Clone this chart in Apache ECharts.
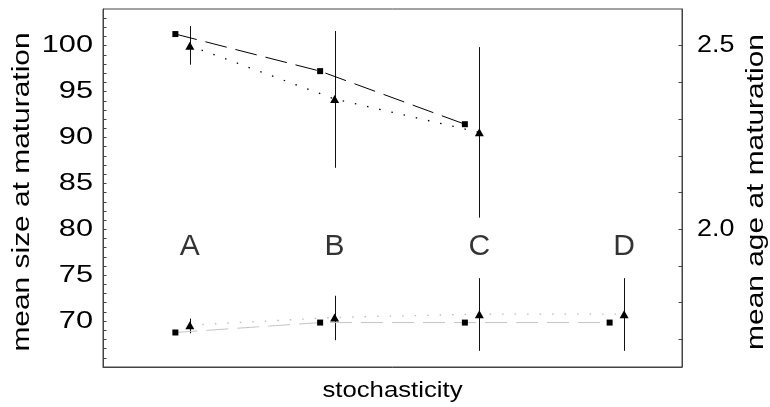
<!DOCTYPE html>
<html><head><meta charset="utf-8">
<script src="https://cdn.jsdelivr.net/npm/echarts@6/dist/echarts.min.js"></script>
<style>html,body{margin:0;padding:0;background:#fff}#c{width:770px;height:407px}</style>
</head><body><div id="c"></div>
<script>
// ---- data ----
const categories = ['A', 'B', 'C', 'D'];
const triangleX = [1, 2, 3, 4];
const squareX = [0.9, 1.9, 2.9, 3.9];
// upper group: mean size at maturation (left axis)
const sizeSquares = [101.27, 97.23, 91.45];
const sizeTriangles = [100.0, 94.2, 90.56];
const sizeTriLow = [97.93, 86.7, 81.27];
const sizeTriHigh = [102.14, 101.6, 99.85];
// lower group: mean age at maturation (right axis)
const ageSquares = [1.719, 1.746, 1.746, 1.746];
const ageTriangles = [1.739, 1.760, 1.769, 1.769];
const ageTriLow = [1.717, 1.698, 1.669, 1.669];
const ageTriHigh = [1.757, 1.819, 1.867, 1.867];
// tick labels
const sizeTickLabels = [70, 75, 80, 85, 90, 95, 100];
const ageTickLabels = [2.0, 2.5];
const categoryLabelLevel = 78.1;
const xTitle = 'stochasticity';
const yLeftTitle = 'mean size at maturation';
const yRightTitle = 'mean age at maturation';

const sizeTicks = [];
for (let v = 66; v <= 103; v++) sizeTicks.push(v);
const ageTicks = [];
for (let k = 17; k <= 25; k++) ageTicks.push(k / 10);

const FONT = '"Liberation Sans", Arial, Helvetica, sans-serif';
const AXIS_COLOR = '#444';
const GRID = { left: 103, right: 88, top: 9, bottom: 40 };

function pairs(xs, ys) { return ys.map((y, i) => [xs[i], y]); }
function triples(xs, lo, hi) { return lo.map((l, i) => [xs[i], l, hi[i]]); }

function errRender(params, api) {
  const x = api.value(0);
  const p1 = api.coord([x, api.value(1)]);
  const p2 = api.coord([x, api.value(2)]);
  return {
    type: 'line',
    shape: { x1: Math.round(p1[0]) + 0.5, y1: p1[1], x2: Math.round(p2[0]) + 0.5, y2: p2[1] },
    style: { stroke: '#111', lineWidth: 1 }
  };
}

const chart = echarts.init(document.getElementById('c'), null, { renderer: 'canvas' });
chart.setOption({
  animation: false,
  backgroundColor: '#fff',
  textStyle: { fontFamily: FONT },
  grid: { left: GRID.left, right: GRID.right, top: GRID.top, bottom: GRID.bottom,
    outerBoundsMode: 'none', containLabel: false,
    show: true, borderColor: AXIS_COLOR, borderWidth: 1, backgroundColor: 'transparent' },
  xAxis: {
    type: 'value', min: 0.4, max: 4.4,
    axisLine: { show: true, lineStyle: { color: AXIS_COLOR } },
    axisTick: { show: false }, axisLabel: { show: false }, splitLine: { show: false }
  },
  yAxis: [
    {
      type: 'value', min: 65, max: 104, position: 'left',
      axisLine: { show: true, lineStyle: { color: AXIS_COLOR } },
      axisTick: { show: true, inside: true, length: 3.5, customValues: sizeTicks, lineStyle: { color: AXIS_COLOR } },
      axisLabel: { show: false },
      splitLine: { show: false }
    },
    {
      type: 'value', min: 1.625, max: 2.6, position: 'right',
      axisLine: { show: true, lineStyle: { color: AXIS_COLOR } },
      axisTick: { show: true, inside: true, length: 3.5, customValues: ageTicks, lineStyle: { color: AXIS_COLOR } },
      axisLabel: { show: false },
      splitLine: { show: false }
    }
  ],
  series: [
    { type: 'custom', yAxisIndex: 0, renderItem: errRender, encode: { x: 0, y: [1, 2] },
      data: triples(triangleX, sizeTriLow, sizeTriHigh), z: 1 },
    { type: 'custom', yAxisIndex: 1, renderItem: errRender, encode: { x: 0, y: [1, 2] },
      data: triples(triangleX, ageTriLow, ageTriHigh), z: 1 },
    { type: 'line', yAxisIndex: 0, data: pairs(squareX, sizeSquares),
      symbol: 'rect', symbolSize: 6, itemStyle: { color: '#000' },
      lineStyle: { color: '#000', width: 1, type: [22, 9] }, z: 3 },
    { type: 'line', yAxisIndex: 0, data: pairs(triangleX, sizeTriangles),
      symbol: 'triangle', symbolSize: [9, 8], itemStyle: { color: '#000' },
      lineStyle: { color: '#000', width: 1.3, type: [1.5, 11] }, z: 3 },
    { type: 'line', yAxisIndex: 1, data: pairs(squareX, ageSquares),
      symbol: 'rect', symbolSize: 6, itemStyle: { color: '#000' },
      lineStyle: { color: '#c4c4c4', width: 1, type: [22, 9] }, z: 2 },
    { type: 'line', yAxisIndex: 1, data: pairs(triangleX, ageTriangles),
      symbol: 'triangle', symbolSize: [9, 8], itemStyle: { color: '#000' },
      lineStyle: { color: '#bbb', width: 1.3, type: [1.5, 11] }, z: 2 },
    { type: 'scatter', yAxisIndex: 0, symbolSize: 0, silent: true,
      data: triangleX.map(x => [x, categoryLabelLevel]),
      label: { show: true, position: 'inside', formatter: p => categories[p.dataIndex],
        fontSize: 30, color: '#000', fontFamily: FONT } }
  ]
});

// axis texts (tick labels and titles), placed through the axes' own scales
function txt(text, x, y, size, align, vAlign, scaleX, rotation) {
  return {
    type: 'text', x: x, y: y, rotation: rotation || 0, scaleX: scaleX, scaleY: 1, silent: true, z: 10,
    style: { text: text, font: size + 'px ' + FONT, fontSize: size, fontFamily: FONT, fill: '#000',
      textAlign: align, align: align, textVerticalAlign: vAlign, verticalAlign: vAlign }
  };
}
const W = chart.getWidth(), H = chart.getHeight();
const gx0 = GRID.left, gx1 = W - GRID.right, gy0 = GRID.top, gy1 = H - GRID.bottom;
const midY = (gy0 + gy1) / 2 + 4;
const texts = [];
sizeTickLabels.forEach(v => {
  texts.push(txt(String(v), gx0 - 10, chart.convertToPixel({ yAxisIndex: 0 }, v), 24, 'right', 'middle', 1.28));
});
ageTickLabels.forEach(v => {
  texts.push(txt(v.toFixed(1), gx1 + 15, chart.convertToPixel({ yAxisIndex: 1 }, v), 24, 'left', 'middle', 1.12));
});
texts.push(txt(xTitle, (gx0 + gx1) / 2, gy1 + 24, 22, 'center', 'middle', 1.17));
texts.push(txt(yLeftTitle, 23, midY, 23, 'center', 'middle', 1.3, Math.PI / 2));
texts.push(txt(yRightTitle, 757, midY, 23, 'center', 'middle', 1.3, Math.PI / 2));
chart.setOption({ graphic: { elements: texts } });
</script></body></html>
